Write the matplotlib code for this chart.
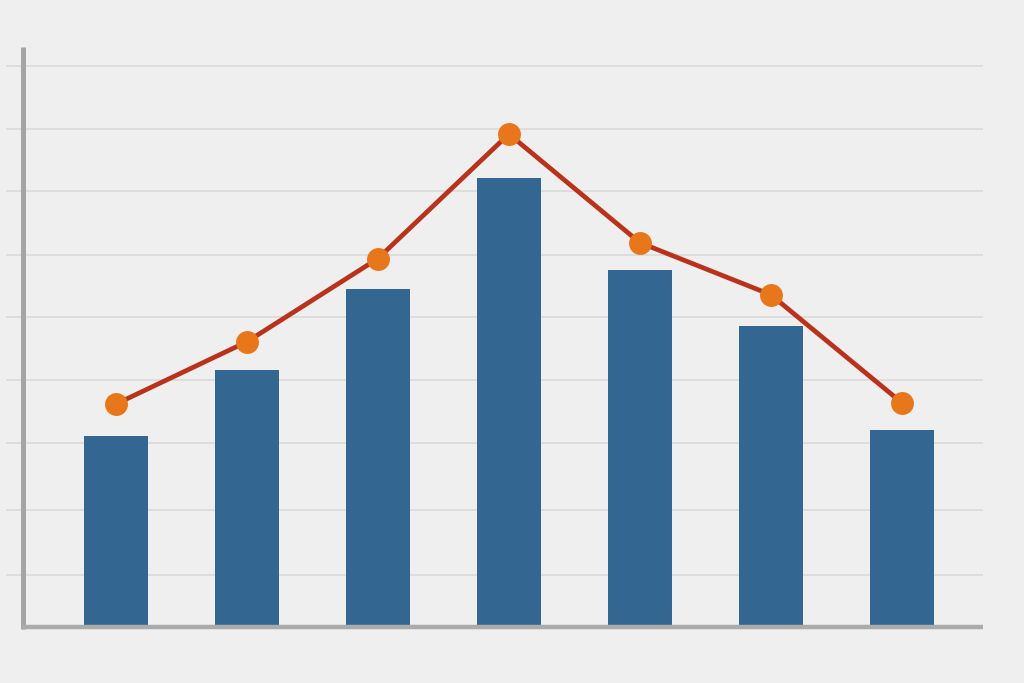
import matplotlib.pyplot as plt

# values (arbitrary units, gridlines ~10 apart)
categories = [0, 1, 2, 3, 4, 5, 6]
bar_values = [30.1, 40.5, 53.2, 70.6, 56.2, 47.4, 31.0]
line_values = [35.1, 44.9, 58.0, 77.6, 60.5, 52.3, 35.3]
grid_levels = [8.2, 18.4, 29.0, 38.9, 48.8, 58.6, 68.7, 78.4, 88.3]

bg = "#efefef"

fig = plt.figure(figsize=(10.24, 6.83), dpi=100, facecolor=bg)
ax = fig.add_axes([6 / 1024, 43 / 683, 977 / 1024, 600 / 683])
ax.set_facecolor(bg)

ax.set_xlim(-0.84, 6.62)
ax.set_ylim(-2.05, 92.4)

# gridlines
for g in grid_levels:
    ax.axhline(g, color="#d8d8d8", linewidth=1.1, zorder=1)

# bars
ax.bar(categories, bar_values, width=0.49, color="#336791", zorder=2)

# line with markers
ax.plot(categories, line_values, color="#b8321c", linewidth=3.4, zorder=3)
ax.plot(categories, line_values, "o", color="#e8761b", markersize=16.5,
        markeredgewidth=0, zorder=4)

# axis lines (drawn by hand, like the reference)
ax.plot([-0.71, -0.71], [-0.3, 91.3], color="#a4a4a4", linewidth=3.6,
        solid_capstyle="butt", zorder=5)
ax.plot([-0.72, 6.62], [0, 0], color="#ababab", linewidth=3.2,
        solid_capstyle="butt", zorder=5)

for s in ax.spines.values():
    s.set_visible(False)
ax.set_xticks([])
ax.set_yticks([])

fig.savefig("out.png", dpi=100, facecolor=bg)
